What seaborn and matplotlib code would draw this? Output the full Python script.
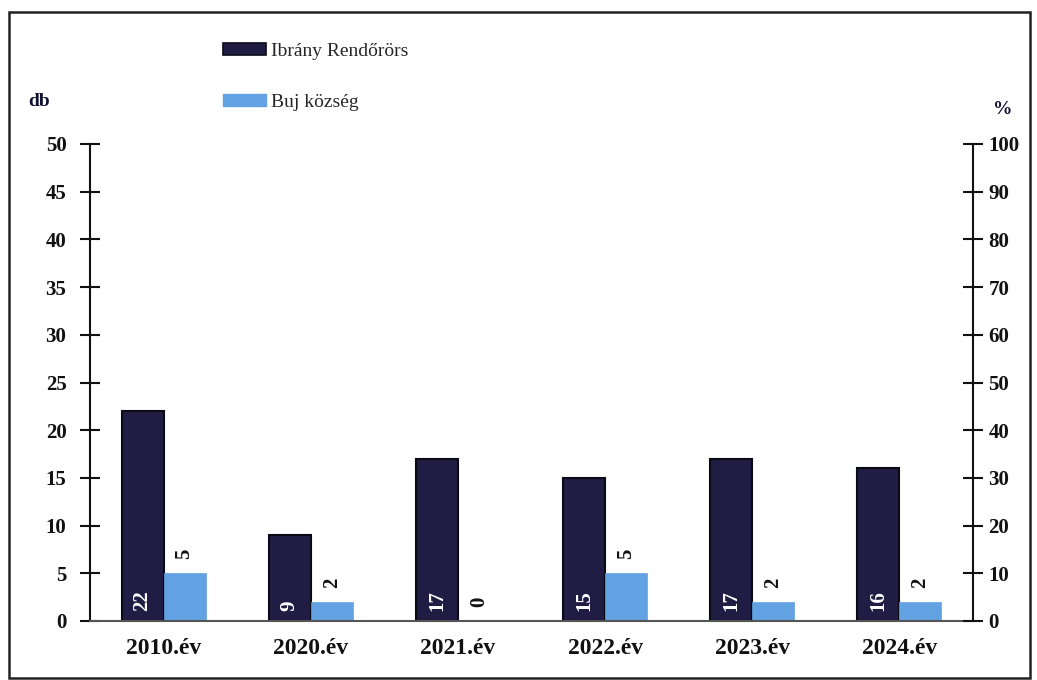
import matplotlib
matplotlib.use("Agg")
import matplotlib.pyplot as plt
from matplotlib.patches import Patch, Rectangle
import seaborn as sns
import pandas as pd

years = ['2010.év', '2020.év', '2021.év', '2022.év', '2023.év', '2024.év']
ibrany = [22, 9, 17, 15, 17, 16]
buj = [5, 2, 0, 5, 2, 2]
series_names = ['Ibrány Rendőrörs', 'Buj község']
left_ticks = list(range(0, 55, 5))
right_ticks = list(range(0, 110, 10))

dark = '#201c44'
light = '#62a2e2'

sns.set_theme(style='white')
plt.rcParams['font.family'] = ['Liberation Serif', 'DejaVu Serif']

df = pd.DataFrame({
    'year': years * 2,
    'value': ibrany + buj,
    'series': [series_names[0]] * len(years) + [series_names[1]] * len(years),
})

W, H = 1037, 680
fig = plt.figure(figsize=(W / 100, H / 100), dpi=100)
ax = fig.add_axes([90 / W, 1 - 621 / H, (973 - 90) / W, (621 - 144) / H])

sns.barplot(data=df, x='year', y='value', hue='series', hue_order=series_names,
            palette=[dark, light], width=0.57, gap=0, ax=ax, legend=False,
            saturation=1, order=years)

for bar in ax.containers[0]:
    bar.set_edgecolor('#0a0a14')
    bar.set_linewidth(1.5)
for bar in ax.containers[1]:
    bar.set_edgecolor(light)
    bar.set_linewidth(0.5)

for bar, v in zip(ax.containers[0], ibrany):
    ax.annotate(f'{v}', (bar.get_x() + bar.get_width() / 2, 0), xytext=(0, 10),
                textcoords='offset pixels', rotation=90, ha='center', va='bottom',
                color='white', fontsize=15, fontweight='bold')
for bar, v in zip(ax.containers[1], buj):
    ax.annotate(f'{v}', (bar.get_x() + bar.get_width() / 2, bar.get_height()), xytext=(0, 14),
                textcoords='offset pixels', rotation=90, ha='center', va='bottom',
                color='#111111', fontsize=15, fontweight='bold')

ax.set_xlim(-0.5, len(years) - 0.5)
ax.set_ylim(0, 50)
ax.set_yticks(left_ticks)
ax.set_yticklabels([str(t) for t in left_ticks], fontsize=15, fontweight='bold')
ax.set_xticks(range(len(years)))
ax.set_xticklabels(years, fontsize=17, fontweight='bold')
ax.set_xticks([i + 0.5 for i in range(len(years) - 1)], minor=True)
ax.tick_params(axis='x', which='major', length=0, pad=12, colors='#111111')
ax.tick_params(axis='x', which='minor', direction='inout', length=14, width=1.5, color='#111111')
ax.tick_params(axis='y', direction='inout', length=14, width=1.5, pad=10, color='#111111', labelcolor='#111111')
ax.set_xlabel('')
ax.set_ylabel('')

ax.spines['top'].set_visible(False)
ax.spines['left'].set_color('#111111')
ax.spines['left'].set_linewidth(1.5)
ax.spines['bottom'].set_color('#555555')
ax.spines['bottom'].set_linewidth(1.5)
ax.spines['right'].set_visible(False)

ax2 = ax.twinx()
ax2.set_ylim(0, 100)
ax2.set_yticks(right_ticks)
ax2.set_yticklabels([str(t) for t in right_ticks], fontsize=15, fontweight='bold')
ax2.tick_params(axis='y', direction='inout', length=14, width=1.5, pad=4, color='#111111', labelcolor='#111111')
for s in ['top', 'left', 'bottom']:
    ax2.spines[s].set_visible(False)
ax2.spines['right'].set_color('#111111')
ax2.spines['right'].set_linewidth(1.5)
ax2.grid(False)
ax.grid(False)

fig.text(28 / W, 1 - 102 / H, 'db', fontsize=14, fontweight='bold', ha='left', va='center', color='#111133')
fig.text(1003 / W, 1 - 109 / H, '%', fontsize=14, fontweight='bold', ha='center', va='center', color='#111133')

handles = [Patch(facecolor=dark, edgecolor='#0a0a14', linewidth=1.2),
           Patch(facecolor=light, edgecolor=light)]
fig.legend(handles, series_names, loc='upper left', bbox_to_anchor=(215 / W, 1 - 35 / H),
           frameon=False, fontsize=14, handlelength=2.2, handleheight=0.55,
           handletextpad=0.3, labelspacing=1.75, borderaxespad=0)

fig.patches.append(Rectangle((9 / W, 1 - 678 / H), (1030 - 9) / W, (678 - 12) / H,
                             transform=fig.transFigure, fill=False, edgecolor='#222222',
                             linewidth=1.8, zorder=10))

fig.savefig('out.png', dpi=100)
